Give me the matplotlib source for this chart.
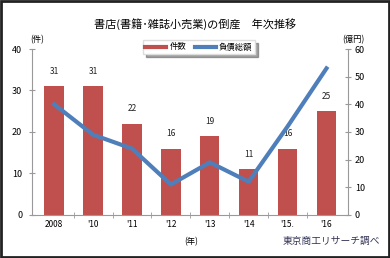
import matplotlib
matplotlib.use('Agg')
import matplotlib.pyplot as plt
from matplotlib.patches import Rectangle
from matplotlib.lines import Line2D

plt.rcParams['font.family'] = ['Noto Sans CJK JP', 'DejaVu Sans']

# データ
years = ['2008', "'10", "'11", "'12", "'13", "'14", "'15.", "'16"]
kensu = [31, 31, 22, 16, 19, 11, 16, 25]
fusai = [40, 29, 24, 11, 19, 12, 32, 53]

bar_color = '#c0504d'
line_color = '#4f7fba'
axis_color = '#999999'

fig = plt.figure(figsize=(3.9, 2.58), dpi=100)
ax = fig.add_axes([0.082, 0.167, 0.81, 0.643])
ax2 = ax.twinx()

x = list(range(len(years)))
ax.bar(x, kensu, width=0.5, color=bar_color, label='件数', zorder=2)
for xi, v in zip(x, kensu):
    ax.text(xi, v + 2.5, str(v), ha='center', va='bottom', fontsize=6, color='#222222')

ax2.plot(x, fusai, color=line_color, lw=3, label='負債総額', zorder=3)

ax.set_xlim(-0.57, 7.55)
ax.set_ylim(0, 40)
ax2.set_ylim(0, 60)
ax.set_yticks([0, 10, 20, 30, 40])
ax2.set_yticks([0, 10, 20, 30, 40, 50, 60])
ax.set_xticks(x)
ax.set_xticklabels(years)
ax.set_xticks([i + 0.5 for i in range(len(years) - 1)], minor=True)

for a in (ax, ax2):
    a.spines['top'].set_visible(False)
    for s in ('left', 'right', 'bottom'):
        a.spines[s].set_color(axis_color)
ax.spines['right'].set_visible(False)
ax2.spines['left'].set_visible(False)
ax2.spines['bottom'].set_visible(False)

ax.tick_params(axis='y', direction='inout', length=4, color=axis_color, labelsize=6.5, pad=5)
ax2.tick_params(axis='y', direction='inout', length=4, color=axis_color, labelsize=6.5, pad=3)
ax.tick_params(axis='x', which='major', length=0, labelsize=6, pad=4)
ax.tick_params(axis='x', which='minor', direction='inout', length=4, color=axis_color)
ax.set_zorder(ax2.get_zorder() - 1)
ax.patch.set_visible(False)
ax2.set_zorder(1)

fig.text(0.5, 0.905, '書店(書籍･雑誌小売業)の倒産　年次推移', ha='center', va='center', fontsize=8)
fig.text(0.095, 0.848, '(件)', ha='center', va='center', fontsize=6)
fig.text(0.905, 0.848, '(億円)', ha='center', va='center', fontsize=6)
fig.text(0.49, 0.065, '(年)', ha='center', va='center', fontsize=6)
fig.text(0.975, 0.065, '東京商工リサーチ調べ', ha='right', va='center', fontsize=7, color='#333355')

handles = [Line2D([0], [0], color=bar_color, lw=3), Line2D([0], [0], color=line_color, lw=3)]
leg = fig.legend(handles, ['件数', '負債総額'], loc='center', bbox_to_anchor=(0.51, 0.818), ncol=2,
                 fontsize=6, frameon=True, fancybox=False, shadow=True,
                 handlelength=2.5, columnspacing=1.0, borderpad=0.3, handletextpad=0.4)
leg.get_frame().set_edgecolor('#dddddd')

fig.patches.append(Rectangle((0.002, 0.003), 0.996, 0.994, transform=fig.transFigure,
                             fill=False, edgecolor='#222222', lw=2))

fig.savefig('out.png', dpi=100)
